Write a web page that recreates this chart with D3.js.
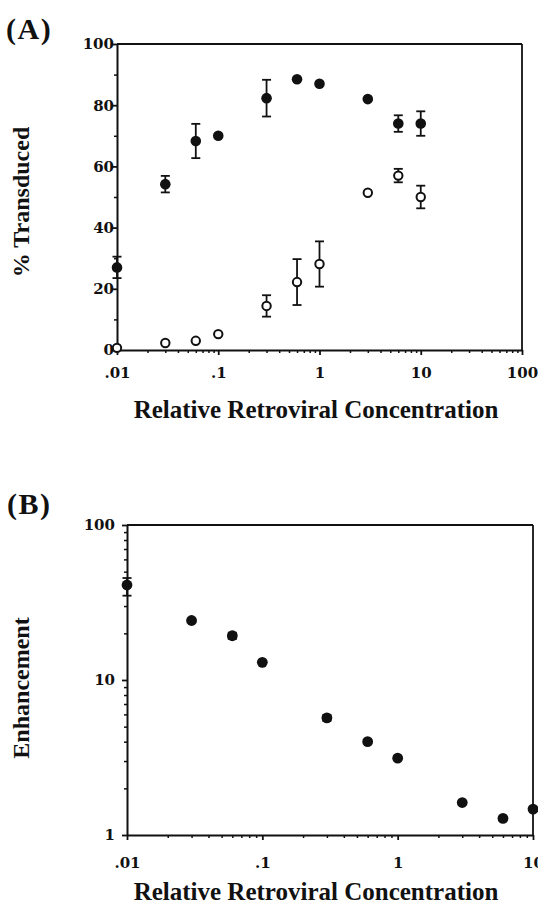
<!DOCTYPE html>
<html>
<head>
<meta charset="utf-8">
<script src="https://cdn.jsdelivr.net/npm/d3@7"></script>
<style>
  body { margin: 0; background: #fff; }
  svg { display: block; }
  .tick text { font-family: "DejaVu Serif", serif; font-weight: bold; font-size: 15px; fill: #111; }
  .axis path, .axis line { stroke: #111; }
</style>
</head>
<body>
<div id="chart"></div>
<script>
// relative retroviral concentration (x values, both panels)
const conc = [0.01, 0.03, 0.06, 0.1, 0.3, 0.6, 1, 3, 6, 10];

// panel A: % transduced, filled = with enhancer, open = without
const transducedFilled = [27, 54.2, 68.3, 70, 82.3, 88.5, 87, 82, 74, 74];
const transducedFilledErr = [3.5, 2.7, 5.6, 0, 6, 0, 0, 0, 2.7, 4];
const transducedOpen = [0.7, 2.3, 3, 5.2, 14.4, 22.2, 28.1, 51.4, 57, 50];
const transducedOpenErr = [0, 0, 0, 0, 3.5, 7.5, 7.4, 0, 2.2, 3.7];

// panel B: enhancement (fold)
const enhancement = [41, 24.2, 19.3, 13, 5.7, 4.0, 3.13, 1.62, 1.28, 1.47];
const enhancementLow = [35, 24.2, 18.4, 13, 5.45, 4.0, 3.13, 1.62, 1.28, 1.47];
const enhancementHigh = [45.5, 24.2, 20.2, 13, 5.95, 4.0, 3.13, 1.62, 1.28, 1.47];

// tick labels
const xTicksA = [0.01, 0.1, 1, 10, 100];
const xTicksB = [0.01, 0.1, 1, 10];
const yTicksA = [0, 20, 40, 60, 80, 100];
const yTicksB = [1, 10, 100];

const W = 538, H = 904;
const svg = d3.select("#chart").append("svg")
  .attr("width", W)
  .attr("height", H);

const fmtConc = d => d < 1 ? String(d).replace(/^0/, "") : String(d);

// minor ticks of a log axis (2..9 in each decade)
function logMinors(lo, hi) {
  let out = [];
  for (let p = Math.log10(lo); p < Math.log10(hi); p++) {
    for (let k = 2; k <= 9; k++) out.push(k * Math.pow(10, p));
  }
  return out;
}

function drawFrame(g, box) {
  g.append("line")
    .attr("x1", box.left).attr("x2", box.right)
    .attr("y1", box.top).attr("y2", box.top)
    .attr("stroke", "#111").attr("stroke-width", 1.8);
  g.append("line")
    .attr("x1", box.right).attr("x2", box.right)
    .attr("y1", box.top).attr("y2", box.bottom)
    .attr("stroke", "#111").attr("stroke-width", 1.8);
}

function drawAxes(g, x, y, box, opts) {
  // x minor ticks
  g.append("g").attr("class", "axis")
    .attr("transform", `translate(0,${box.bottom})`)
    .call(d3.axisBottom(x).tickValues(logMinors(...x.domain())).tickSize(3).tickFormat(""))
    .call(a => a.select(".domain").remove())
    .selectAll("line").attr("stroke-width", 1.5);

  g.append("g").attr("class", "axis")
    .attr("transform", `translate(0,${box.bottom})`)
    .call(d3.axisBottom(x).tickValues(opts.xTicks).tickSize(5).tickSizeOuter(0)
      .tickFormat(fmtConc).tickPadding(opts.xPad))
    .call(a => a.select(".domain").attr("stroke-width", 2))
    .selectAll("line").attr("stroke-width", 1.8);

  // y minor ticks
  g.append("g").attr("class", "axis")
    .attr("transform", `translate(${box.left},0)`)
    .call(d3.axisLeft(y).tickValues(opts.yMinor).tickSize(3).tickFormat(""))
    .call(a => a.select(".domain").remove())
    .selectAll("line").attr("stroke-width", 1.5);

  g.append("g").attr("class", "axis")
    .attr("transform", `translate(${box.left},0)`)
    .call(d3.axisLeft(y).tickValues(opts.yTicks).tickSize(5).tickSizeOuter(0)
      .tickFormat(d3.format("d")).tickPadding(opts.yPad))
    .call(a => a.select(".domain").attr("stroke-width", 2))
    .selectAll("line").attr("stroke-width", 1.8);
}

function drawLabels(g, opts) {
  g.append("text")
    .attr("x", opts.tagX).attr("y", opts.tagY)
    .attr("font-family", "Liberation Serif, serif")
    .attr("font-weight", "bold")
    .attr("font-size", 30)
    .attr("letter-spacing", 1.5)
    .attr("fill", "#111")
    .text(opts.tag);

  g.append("text")
    .attr("x", 316).attr("y", opts.xTitleY)
    .attr("text-anchor", "middle")
    .attr("font-family", "Liberation Serif, serif")
    .attr("font-weight", "bold")
    .attr("font-size", 25)
    .attr("fill", "#111")
    .text("Relative Retroviral Concentration");

  g.append("text")
    .attr("transform", `translate(${opts.yTitleX},${opts.yTitleY}) rotate(-90)`)
    .attr("text-anchor", "middle")
    .attr("font-family", "Liberation Serif, serif")
    .attr("font-weight", "bold")
    .attr("font-size", 24)
    .attr("fill", "#111")
    .text(opts.yTitle);
}

function errorBars(g, x, y, xs, lo, hi) {
  const cap = 4.5;
  const eb = g.append("g").attr("stroke", "#111").attr("stroke-width", 1.8);
  xs.forEach((c, i) => {
    if (lo[i] === hi[i]) return;
    const cx = x(c), y0 = y(lo[i]), y1 = y(hi[i]);
    eb.append("line").attr("x1", cx).attr("x2", cx).attr("y1", y0).attr("y2", y1);
    eb.append("line").attr("x1", cx - cap).attr("x2", cx + cap).attr("y1", y0).attr("y2", y0);
    eb.append("line").attr("x1", cx - cap).attr("x2", cx + cap).attr("y1", y1).attr("y2", y1);
  });
}

// ---------- panel A ----------
{
  const box = { left: 117, right: 522, top: 44, bottom: 350 };
  const x = d3.scaleLog().domain([0.01, 100]).range([box.left, box.right]);
  const y = d3.scaleLinear().domain([0, 100]).range([box.bottom, box.top]);
  const g = svg.append("g");

  drawFrame(g, box);
  drawAxes(g, x, y, box, {
    xTicks: xTicksA,
    yTicks: yTicksA,
    yMinor: d3.range(10, 100, 20),
    xPad: 12,
    yPad: -2
  });

  errorBars(g, x, y, conc,
    transducedFilled.map((v, i) => v - transducedFilledErr[i]),
    transducedFilled.map((v, i) => v + transducedFilledErr[i]));
  errorBars(g, x, y, conc,
    transducedOpen.map((v, i) => v - transducedOpenErr[i]),
    transducedOpen.map((v, i) => v + transducedOpenErr[i]));

  g.append("g").selectAll("circle")
    .data(conc.map((c, i) => [c, transducedFilled[i]]))
    .join("circle")
    .attr("cx", d => x(d[0])).attr("cy", d => y(d[1]))
    .attr("r", 5.3).attr("fill", "#111");

  g.append("g").selectAll("circle")
    .data(conc.map((c, i) => [c, transducedOpen[i]]))
    .join("circle")
    .attr("cx", d => x(d[0])).attr("cy", d => y(d[1]))
    .attr("r", 4.2).attr("fill", "#fff")
    .attr("stroke", "#111").attr("stroke-width", 2);

  drawLabels(g, {
    tag: "(A)", tagX: 6, tagY: 39,
    xTitleY: 418,
    yTitle: "% Transduced", yTitleX: 29, yTitleY: 202
  });
}

// ---------- panel B ----------
{
  const box = { left: 127, right: 533, top: 525, bottom: 835 };
  const x = d3.scaleLog().domain([0.01, 10]).range([box.left, box.right]);
  const y = d3.scaleLog().domain([1, 100]).range([box.bottom, box.top]);
  const g = svg.append("g");

  drawFrame(g, box);
  drawAxes(g, x, y, box, {
    xTicks: xTicksB,
    yTicks: yTicksB,
    yMinor: logMinors(1, 100),
    xPad: 17,
    yPad: 7
  });

  errorBars(g, x, y, conc, enhancementLow, enhancementHigh);

  g.append("g").selectAll("circle")
    .data(conc.map((c, i) => [c, enhancement[i]]))
    .join("circle")
    .attr("cx", d => x(d[0])).attr("cy", d => y(d[1]))
    .attr("r", 5.4).attr("fill", "#111");

  drawLabels(g, {
    tag: "(B)", tagX: 7, tagY: 514,
    xTitleY: 900,
    yTitle: "Enhancement", yTitleX: 29, yTitleY: 688
  });
}
</script>
</body>
</html>
